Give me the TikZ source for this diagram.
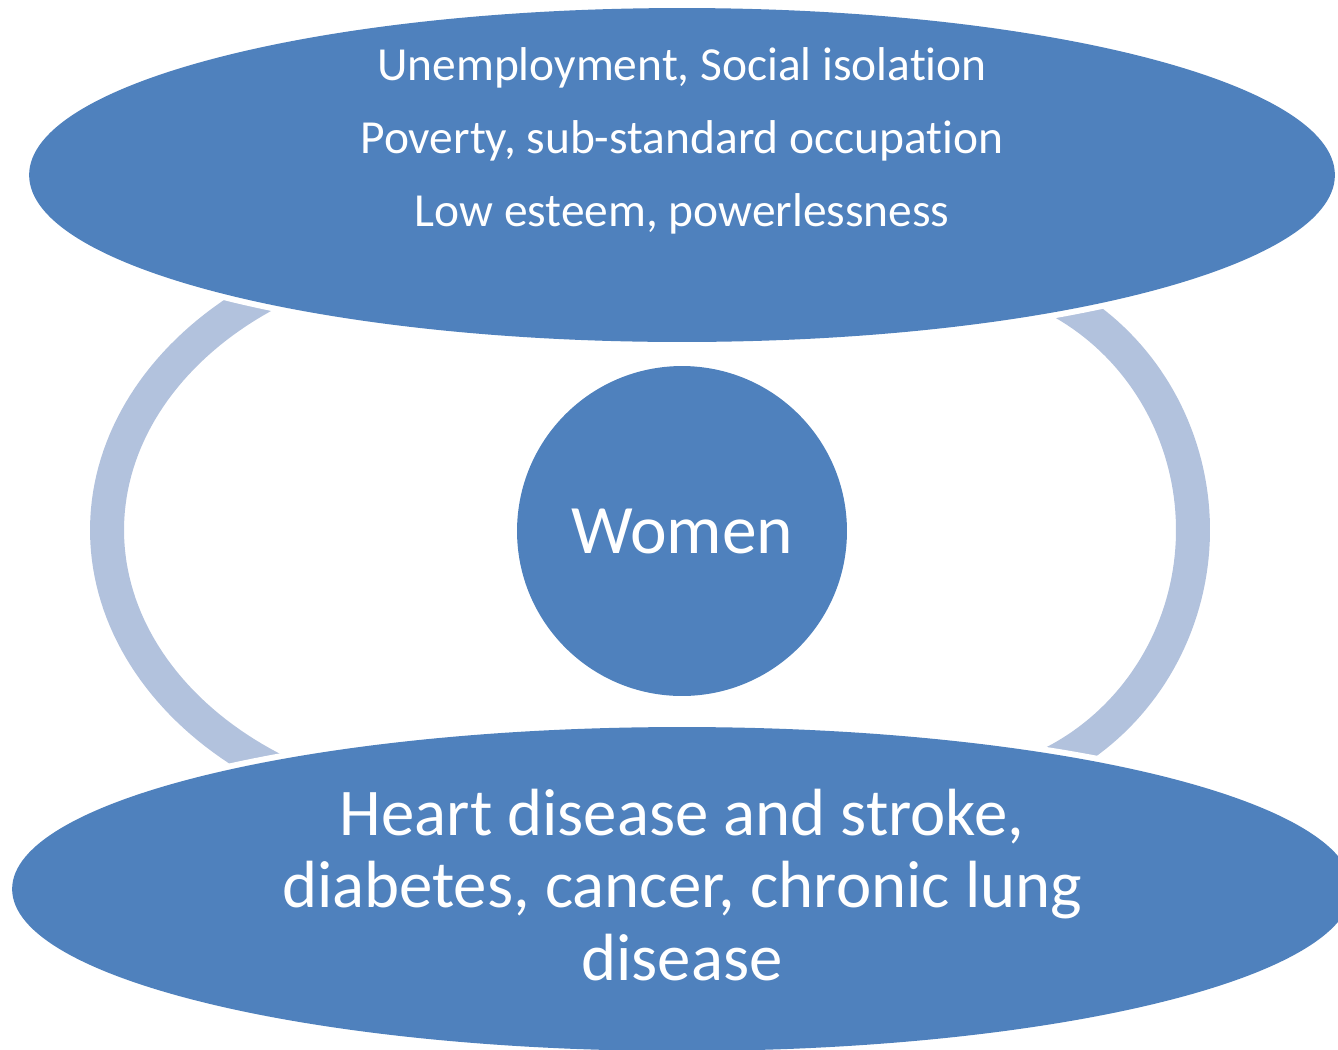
\documentclass[tikz,border=0pt]{standalone}
\usepackage{fontspec}
\setmainfont{Carlito}[Ligatures=NoCommon]
\usepackage{tikz}
\usetikzlibrary{shapes.geometric}
\definecolor{boxblue}{HTML}{4F81BD}
\definecolor{bandblue}{HTML}{B2C2DD}

\begin{document}
\begin{tikzpicture}[x=0.02cm,y=-0.02cm,
  blob/.style={ellipse, fill=boxblue, inner sep=0pt,
    preaction={draw=white, line width=0.24cm}},
  band/.style={draw=bandblue, line width=0.68cm},
  wtext/.style={text=white, align=center, anchor=base}]
\useasboundingbox (0,0) rectangle (1338,1049);
% side bands (ends hidden under the ellipses)
\draw[band] plot[domain=118:242, samples=80] ({481+374*cos(\x)},{530+288*sin(\x)});
\draw[band] plot[domain=-68:68, samples=80] ({941+252*cos(\x)},{530+260*sin(\x)});
% ellipses
\node[blob, minimum width=26.12cm, minimum height=6.68cm] (causes) at (682,175) {};
\node[blob, minimum width=26.8cm, minimum height=6.48cm] (illness) at (682,889) {};
\node[circle, fill=boxblue, minimum size=6.6cm, inner sep=0pt, text=white,
  font=\fontsize{39.5}{42}\selectfont] (women) at (682,531) {Women};
% texts (base = last line)
\node[wtext, font=\fontsize{27}{41.5}\selectfont] (causestext) at (682,226)
  {Unemployment, Social isolation\\Poverty, sub-standard occupation\\Low esteem, powerlessness};
\node[wtext, font=\fontsize{38}{41}\selectfont] (illnesstext) at (682,980)
  {Heart disease and stroke,\\diabetes, cancer, chronic lung\\disease};
\end{tikzpicture}
\end{document}
